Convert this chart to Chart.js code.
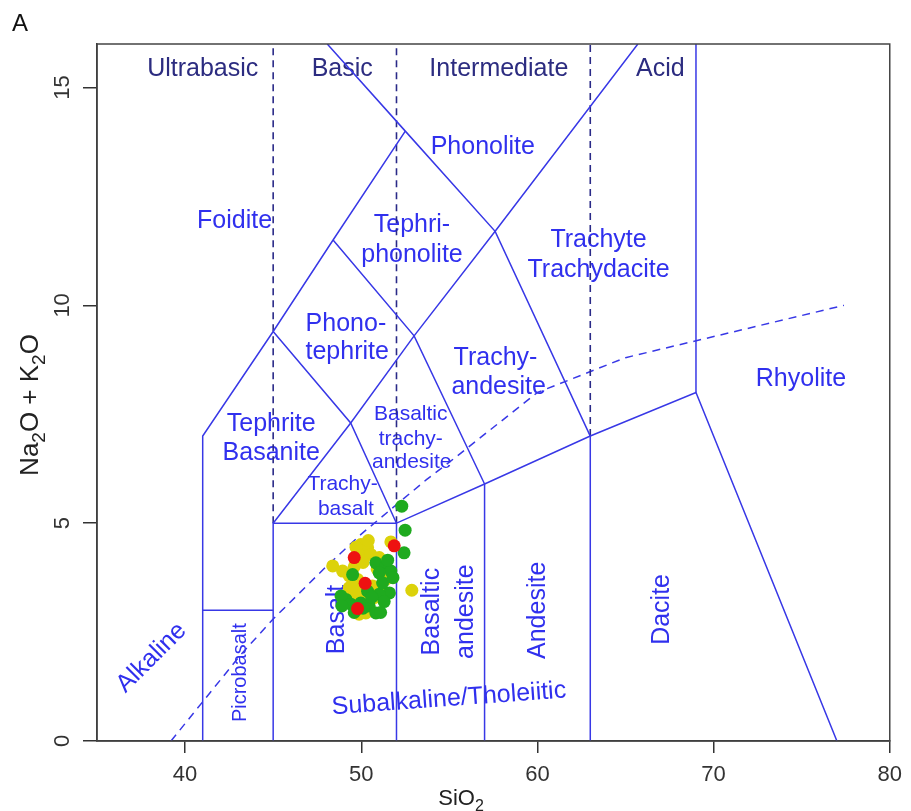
<!DOCTYPE html>
<html><head><meta charset="utf-8">
<script src="https://cdn.jsdelivr.net/npm/chart.js@4/dist/chart.umd.min.js"></script>
<style>html,body{margin:0;padding:0;background:#fff;}#wrap{width:911px;height:811px;position:relative;}</style>
</head><body><div id="wrap"><canvas id="c" width="911" height="811"></canvas></div>
<script>
// ---- axis ticks ----
const xTicks = [40, 50, 60, 70, 80];
const yTicks = [0, 5, 10, 15];

// ---- sample data (SiO2, Na2O+K2O) ----
const yellowSiO2 = [48.38, 49.98, 50.36, 51.68, 49.88, 50.55, 51.02, 48.94, 49.32, 49.79, 50.64, 49.88, 49.60, 51.39, 50.26, 49.88, 52.87, 51.58, 49.32, 50.73, 49.60, 50.10, 50.90, 49.50, 50.00, 50.50, 49.20, 51.10, 50.40, 49.70];
const yellowAlk  = [4.02, 4.51, 4.44, 4.57, 4.28, 4.28, 4.21, 3.90, 3.79, 3.71, 3.56, 3.44, 3.29, 3.71, 2.94, 2.91, 3.46, 3.86, 3.52, 3.29, 4.00, 4.10, 3.95, 3.55, 3.30, 3.00, 3.30, 3.55, 4.60, 4.45];
const greenSiO2  = [52.30, 52.49, 52.43, 50.83, 51.39, 51.68, 51.02, 51.60, 49.51, 49.13, 49.41, 49.98, 50.45, 50.83, 51.02, 50.36, 51.21, 48.85, 51.50, 51.80, 51.10, 50.10, 50.60, 49.60, 51.30, 48.90];
const greenAlk   = [5.39, 4.84, 4.32, 4.09, 4.02, 3.90, 3.86, 3.40, 3.82, 3.25, 3.14, 3.17, 3.10, 2.94, 3.37, 3.44, 3.63, 3.33, 4.15, 3.75, 2.95, 3.05, 3.30, 2.95, 3.20, 3.10];
const redSiO2    = [51.87, 50.22, 49.79, 49.60];
const redAlk     = [4.48, 3.62, 3.04, 4.21];

// ---- TAS field boundaries (SiO2 list, alkali list) ----
const foiditeX = [41, 41, 45, 48.4, 52.5];         const foiditeY = [0, 7, 9.4, 11.5, 14];
const picroTopX = [41, 45];                          const picroTopY = [3, 3];
const basaltX = [45, 45, 52];                        const basaltY = [0, 5, 5];
const subalkX = [52, 52, 57, 63, 69, 77];            const subalkY = [0, 5, 5.9, 7, 8, 0];
const andX = [57, 57];                               const andY = [0, 5.9];
const dacX = [63, 63];                               const dacY = [0, 7];
const rhyX = [69, 69];                               const rhyY = [8, 16];
const trachyLineX = [45, 49.4, 53, 57.6, 65.7];      const trachyLineY = [5, 7.3, 9.3, 11.7, 16];
const tephLineX = [45, 49.4, 52];                    const tephLineY = [9.4, 7.3, 5];
const phonoTephX = [48.4, 53, 57];                   const phonoTephY = [11.5, 9.3, 5.9];
const phonoliteX = [48.07, 52.5, 57.6, 63];          const phonoliteY = [16, 14, 11.7, 7];
// silica class dividers
const div45X = [45, 45]; const div45Y = [5, 16];
const div52X = [52, 52]; const div52Y = [5, 16];
const div63X = [63, 63]; const div63Y = [7, 16];
// Irvine & Baragar alkaline / subalkaline divide
const ibX = [39.2, 40, 43.2, 45, 48, 50, 53.7, 55, 60, 65, 77.4];
const ibY = [0, 0.4, 2, 2.8, 4, 4.75, 6, 6.4, 8, 8.8, 10];

const pts = (xs, ys) => xs.map((x, i) => ({x, y: ys[i]}));

const LINE = '#3838e6', NAVY = '#2a2a88', TXT = '#3030ee', TOP = '#2c2c80';
const solid = (xs, ys) => ({data: pts(xs, ys), showLine: true, pointRadius: 0, borderColor: LINE, borderWidth: 1.5, fill: false, order: 10});
const dashedNavy = (xs, ys) => ({data: pts(xs, ys), showLine: true, pointRadius: 0, borderColor: NAVY, borderWidth: 1.6, borderDash: [7, 5], fill: false, order: 10});

const datasets = [
  {label: 'red', data: pts(redSiO2, redAlk), backgroundColor: '#ee1111', borderColor: '#ee1111', pointRadius: 6.5, pointBorderWidth: 0, order: 0},
  {label: 'green', data: pts(greenSiO2, greenAlk), backgroundColor: '#1faa1f', borderColor: '#1faa1f', pointRadius: 6.5, pointBorderWidth: 0, order: 1},
  {label: 'yellow', data: pts(yellowSiO2, yellowAlk), backgroundColor: '#dcd20a', borderColor: '#dcd20a', pointRadius: 6.5, pointBorderWidth: 0, order: 2},
  solid(foiditeX, foiditeY), solid(picroTopX, picroTopY), solid(basaltX, basaltY), solid(subalkX, subalkY),
  solid(andX, andY), solid(dacX, dacY), solid(rhyX, rhyY), solid(trachyLineX, trachyLineY),
  solid(tephLineX, tephLineY), solid(phonoTephX, phonoTephY), solid(phonoliteX, phonoliteY),
  dashedNavy(div45X, div45Y), dashedNavy(div52X, div52Y), dashedNavy(div63X, div63Y),
  {data: pts(ibX, ibY), showLine: true, pointRadius: 0, borderColor: LINE, borderWidth: 1.5, borderDash: [8, 6], fill: false, order: 10}
];

// ---- text labels (layout) ----
const FONT = '"Liberation Sans", Arial, sans-serif';
const fieldLabels = [
  {t: 'Ultrabasic', x: 41.0, y: 15.43, s: 25, c: TOP},
  {t: 'Basic', x: 48.92, y: 15.43, s: 25, c: TOP},
  {t: 'Intermediate', x: 57.81, y: 15.43, s: 25, c: TOP},
  {t: 'Acid', x: 66.98, y: 15.43, s: 25, c: TOP},
  {t: 'Phonolite', x: 56.9, y: 13.63, s: 25},
  {t: 'Foidite', x: 42.81, y: 11.93, s: 25},
  {t: 'Tephri-', x: 52.88, y: 11.84, s: 25},
  {t: 'phonolite', x: 52.88, y: 11.15, s: 25},
  {t: 'Trachyte', x: 63.47, y: 11.5, s: 25},
  {t: 'Trachydacite', x: 63.47, y: 10.81, s: 25},
  {t: 'Phono-', x: 49.13, y: 9.57, s: 25},
  {t: 'tephrite', x: 49.2, y: 8.92, s: 25},
  {t: 'Trachy-', x: 57.62, y: 8.8, s: 25},
  {t: 'andesite', x: 57.8, y: 8.12, s: 25},
  {t: 'Rhyolite', x: 74.96, y: 8.3, s: 25},
  {t: 'Tephrite', x: 44.89, y: 7.27, s: 25},
  {t: 'Basanite', x: 44.89, y: 6.62, s: 25},
  {t: 'Basaltic', x: 52.81, y: 7.5, s: 21},
  {t: 'trachy-', x: 52.81, y: 6.93, s: 21},
  {t: 'andesite', x: 52.87, y: 6.39, s: 21},
  {t: 'Trachy-', x: 48.94, y: 5.89, s: 21},
  {t: 'basalt', x: 49.13, y: 5.32, s: 21},
  {t: 'Basalt', x: 48.61, y: 2.79, s: 25, r: -90},
  {t: 'Basaltic', x: 54.02, y: 2.97, s: 25, r: -90},
  {t: 'andesite', x: 55.98, y: 2.97, s: 25, r: -90},
  {t: 'Andesite', x: 60.03, y: 3.0, s: 25, r: -90},
  {t: 'Dacite', x: 67.1, y: 3.02, s: 25, r: -90},
  {t: 'Picrobasalt', x: 43.15, y: 1.57, s: 20, r: -90},
  {t: 'Alkaline', x: 38.1, y: 1.91, s: 25, r: -45},
  {t: 'Subalkaline/Tholeiitic', x: 54.98, y: 0.965, s: 25, r: -4.1}
];

function drawSub(ctx, parts, size) {
  let w = 0;
  const sz = sub => (sub ? Math.round(size * 0.72) : size);
  parts.forEach(([t, sub]) => { ctx.font = sz(sub) + 'px ' + FONT; w += ctx.measureText(t).width; });
  let x = -w / 2;
  parts.forEach(([t, sub]) => {
    ctx.font = sz(sub) + 'px ' + FONT;
    ctx.fillText(t, x, sub ? size * 0.28 : 0);
    x += ctx.measureText(t).width;
  });
}

const decor = {
  id: 'decor',
  beforeDatasetsDraw(chart) {
    const {ctx, scales: {x, y}} = chart;
    ctx.save();
    fieldLabels.forEach(l => {
      ctx.save();
      ctx.translate(x.getPixelForValue(l.x), y.getPixelForValue(l.y));
      if (l.r) ctx.rotate(l.r * Math.PI / 180);
      ctx.font = l.s + 'px ' + FONT;
      ctx.fillStyle = l.c || TXT;
      ctx.textAlign = 'center';
      ctx.textBaseline = 'middle';
      ctx.fillText(l.t, 0, 0);
      ctx.restore();
    });
    ctx.restore();
  },
  afterDraw(chart) {
    const {ctx, chartArea: a} = chart;
    ctx.save();
    ctx.strokeStyle = '#444';
    ctx.lineWidth = 1.5;
    ctx.strokeRect(a.left, a.top, a.right - a.left, a.bottom - a.top);
    ctx.fillStyle = '#222';
    ctx.textBaseline = 'alphabetic';
    ctx.textAlign = 'left';
    ctx.save();
    ctx.translate(461, 805);
    drawSub(ctx, [['SiO', false], ['2', true]], 22);
    ctx.restore();
    ctx.save();
    ctx.translate(38, 405);
    ctx.rotate(-Math.PI / 2);
    drawSub(ctx, [['Na', false], ['2', true], ['O + K', false], ['2', true], ['O', false]], 26);
    ctx.restore();
    ctx.font = '24px ' + FONT;
    ctx.fillStyle = '#111';
    ctx.fillText('A', 12, 31);
    ctx.restore();
  }
};

new Chart(document.getElementById('c'), {
  type: 'scatter',
  data: {datasets},
  options: {
    responsive: false,
    animation: false,
    layout: {padding: {top: 44, right: 19, left: 0, bottom: 0}},
    plugins: {legend: {display: false}, tooltip: {enabled: false}},
    scales: {
      x: {
        type: 'linear', min: 35, max: 80,
        afterBuildTicks: s => { s.ticks = xTicks.map(v => ({value: v})); },
        afterFit: s => { s.height = 70; },
        grid: {drawOnChartArea: false, drawTicks: true, tickLength: 12, color: '#333', lineWidth: 1.5},
        border: {display: true, color: '#333', width: 1.5},
        ticks: {font: {size: 22, family: FONT}, color: '#333', padding: 9, maxRotation: 0}
      },
      y: {
        type: 'linear', min: 0, max: 16,
        afterBuildTicks: s => { s.ticks = yTicks.map(v => ({value: v})); },
        afterFit: s => { s.width = 97; },
        grid: {drawOnChartArea: false, drawTicks: true, tickLength: 14, color: '#333', lineWidth: 1.5},
        border: {display: true, color: '#333', width: 1.5},
        ticks: {font: {size: 22, family: FONT}, color: '#333', padding: 8, minRotation: 90, maxRotation: 90, crossAlign: 'center'}
      }
    }
  },
  plugins: [decor]
});
</script>
</body></html>
